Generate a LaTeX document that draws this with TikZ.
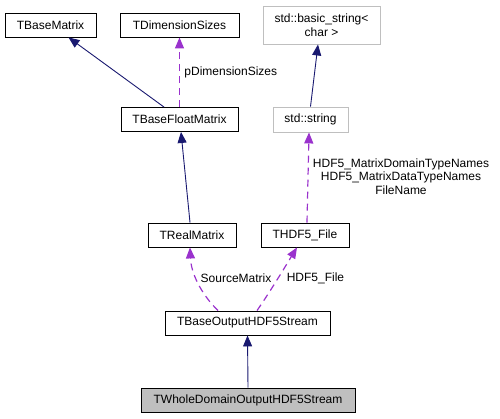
\documentclass[tikz,border=0pt]{standalone}
\usepackage{fontspec}
\setmainfont{Liberation Sans}
\usetikzlibrary{arrows.meta, positioning}

\definecolor{navy}{HTML}{191970}
\definecolor{orchid}{HTML}{9A32CD}
\definecolor{greyline}{HTML}{BFBFBF}

\begin{document}
\begin{tikzpicture}[x=1pt,y=-1pt,
    box/.style={draw=black, line width=0.9pt, minimum height=24pt, inner sep=0pt,
        font=\fontsize{12}{13.5}\selectfont, align=center},
    extbox/.style={box, draw=greyline},
    focusbox/.style={box, fill=greyline},
    inherit/.style={navy, line width=0.9pt, -{Triangle[length=11pt,width=9pt]}},
    uses/.style={orchid, line width=1.2pt, dash pattern=on 7pt off 5pt,
        -{Triangle[length=11pt,width=9pt]}},
    elabel/.style={text=black, font=\fontsize{12}{13.5}\selectfont, align=center}]
    \useasboundingbox (0,0) rectangle (500,419);
    \node[box, minimum width=91pt] (bm) at (50.5,25) {TBaseMatrix};
    \node[box, minimum width=119pt] (ds) at (179.5,25) {TDimensionSizes};
    \node[extbox, minimum width=117pt, minimum height=38pt] (bs) at (321.5,25) {std::basic\_string<\\char >};
    \node[box, minimum width=117pt] (fm) at (179.5,119.5) {TBaseFloatMatrix};
    \node[extbox, minimum width=75pt, minimum height=25pt] (ss) at (310.5,119.5) {std::string};
    \node[box, minimum width=88pt] (rm) at (192,235) {TRealMatrix};
    \node[box, minimum width=88pt] (hf) at (305,235) {THDF5\_File};
    \node[box, minimum width=165pt] (os) at (247.5,323) {TBaseOutputHDF5Stream};
    \node[focusbox, minimum width=214pt] (wd) at (248,400) {TWholeDomainOutputHDF5Stream};
    \draw[inherit] ([xshift=-15.5pt]fm.north) -- ([xshift=18pt]bm.south);
    \draw[uses] (fm.north) -- (ds.south)
        node[elabel, pos=0.5, right=1pt] {pDimensionSizes};
    \draw[inherit] ([xshift=-2pt]rm.north) -- ([xshift=1.5pt]fm.south);
    \draw[inherit] (ss.north) -- ([xshift=-3.5pt]bs.south);
    \draw[uses] ([xshift=2pt]hf.north) -- ([xshift=-1.5pt]ss.south);
    \node[elabel] (hfl) at (401,176.5) {HDF5\_MatrixDomainTypeNames\\HDF5\_MatrixDataTypeNames\\FileName};
    \draw[uses] ([xshift=-29.5pt]os.north) .. controls (200,293) and (191,272) .. ([xshift=-2pt]rm.south);
    \node[elabel] (sml) at (236,278) {SourceMatrix};
    \draw[uses] ([xshift=9.5pt]os.north) .. controls (270,292) and (288,262) .. ([xshift=-8pt]hf.south);
    \node[elabel] (hfel) at (315.5,278) {HDF5\_File};
    \draw[inherit] (wd.north) -- (os.south);
\end{tikzpicture}
\end{document}
